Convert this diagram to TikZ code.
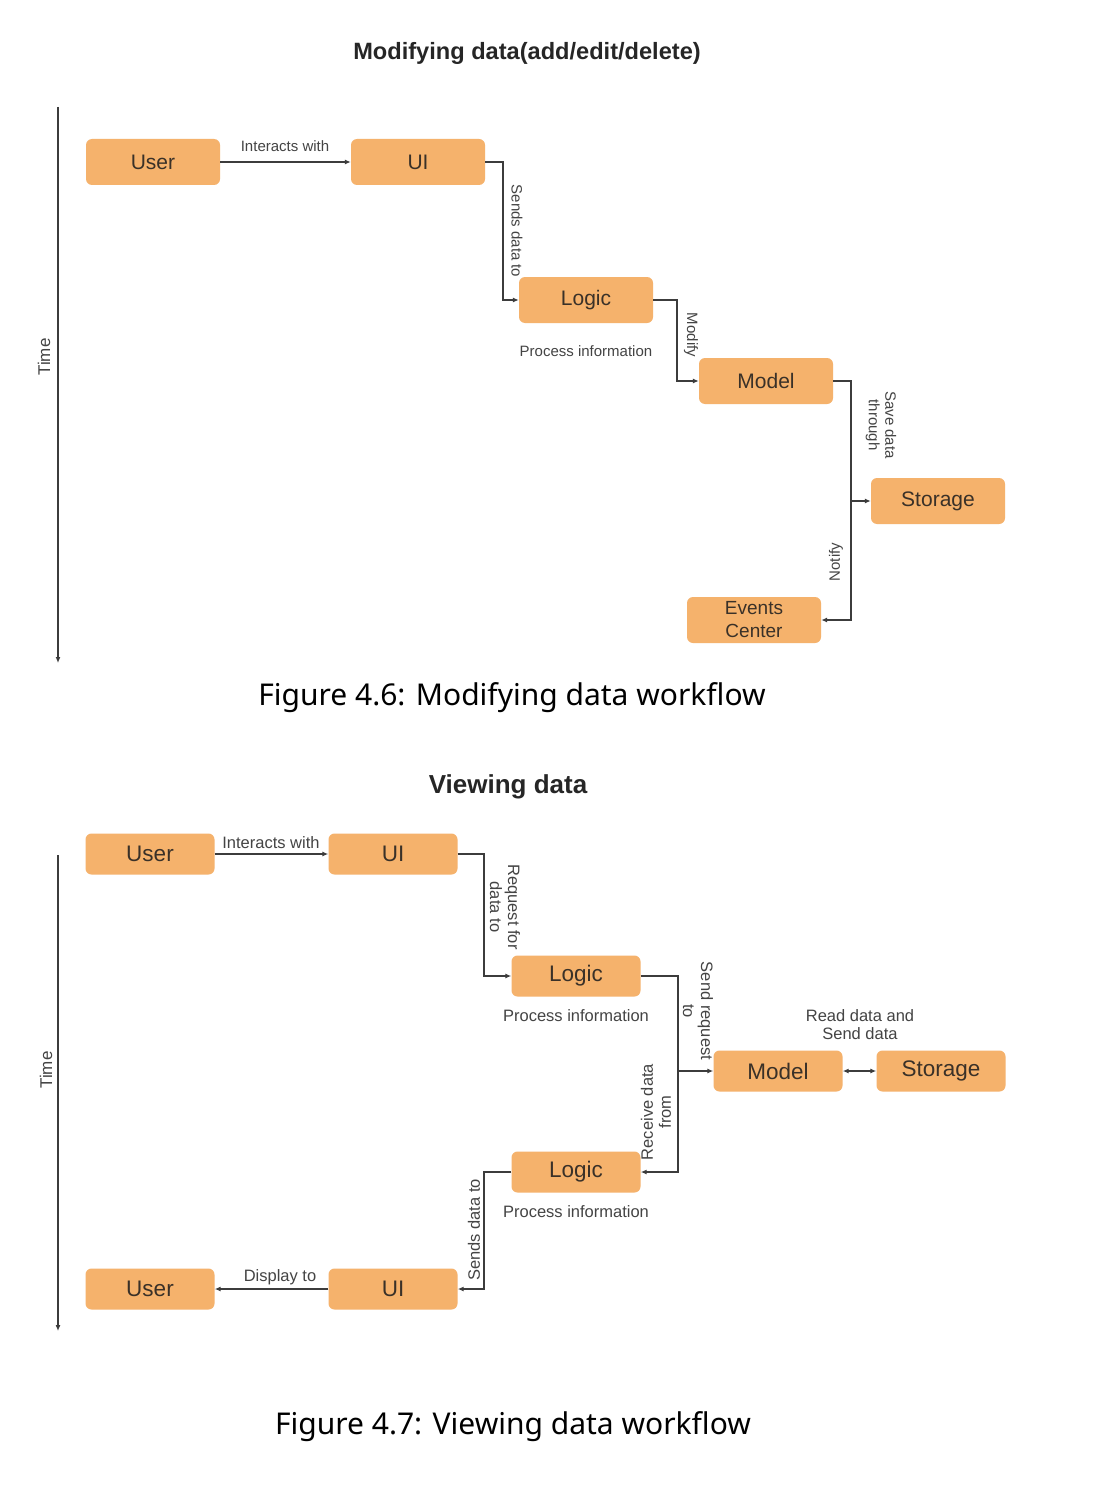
\documentclass[tikz,border=0pt]{standalone}
\usepackage{fontspec}
\setmainfont{Liberation Sans}
\newfontfamily\capfont{Noto Sans}
\usetikzlibrary{arrows.meta}
\definecolor{boxorange}{HTML}{F5B26C}
\definecolor{txtdark}{HTML}{3A3128}
\definecolor{lblgrey}{HTML}{444444}
\definecolor{linegrey}{HTML}{3C3C3C}
\tikzset{
  boxA/.style={rounded corners=6pt, fill=boxorange, draw=none, minimum width=134pt, minimum height=46pt, text=txtdark, font=\fontsize{21}{23}\selectfont, align=center, inner sep=0pt},
  boxB/.style={boxA, minimum width=129pt, minimum height=41pt, font=\fontsize{22.5}{24}\selectfont},
  lbl/.style={text=lblgrey, font=\fontsize{15}{16.5}\selectfont, align=center, inner sep=0pt},
  lblB/.style={lbl, font=\fontsize{16.5}{18}\selectfont},
  conn/.style={draw=linegrey, line width=1.3pt, -{Latex[length=6pt,width=5pt]}},
  dconn/.style={draw=linegrey, line width=1.3pt, {Latex[length=6pt,width=5pt]}-{Latex[length=6pt,width=5pt]}},
  ttl/.style={font=\bfseries\fontsize{23.6}{26}\selectfont, text=black!85, inner sep=0pt},
  ttlB/.style={font=\bfseries\fontsize{26}{28}\selectfont, text=black!85, inner sep=0pt},
  figcap/.style={font=\capfont\fontsize{30}{34}\selectfont, text=black, inner sep=0pt},
  tlbl/.style={font=\fontsize{17}{19}\selectfont, text=lblgrey, inner sep=0pt, rotate=90}
}
\begin{document}
\begin{tikzpicture}[x=1pt,y=-1pt]
\useasboundingbox (0,0) rectangle (1110,1498);
\fill[white] (0,0) rectangle (1110,1498);

% ---------- Figure 4.6 ----------
\node[ttl] (t1) at (527,53) {Modifying data(add/edit/delete)};
\coordinate (ta1) at (58,107);
\coordinate (tb1) at (58,663);
\draw[conn] (ta1) -- (tb1);
\node[tlbl] (time1) at (44,357) {Time};

\node[boxA] (user1) at (153,162) {User};
\node[boxA] (ui1) at (418,162) {UI};
\node[boxA] (logic1) at (586,300) {Logic};
\node[boxA] (model1) at (766,381) {Model};
\node[boxA] (stor1) at (938,501) {Storage};
\node[boxA, font=\fontsize{19}{23}\selectfont] (ev1) at (754,620) {Events\\Center};

\draw[conn] (user1) -- (ui1);
\node[lbl] (l1) at (285,146) {Interacts with};

\coordinate (j1) at (503,162);
\draw[conn] (ui1.east) -| (j1) |- (logic1.west);
\node[lbl, rotate=-90] (l2) at (517,231) {Sends data to};

\coordinate (j2) at (677,300);
\draw[conn] (logic1.east) -| (j2) |- (model1.west);
\node[lbl, rotate=-90] (l3) at (691,335) {Modify};
\node[lbl] (p1) at (586,351) {Process information};

\coordinate (j3) at (851,381);
\coordinate (j4) at (851,501);
\draw[conn] (model1.east) -| (j3) |- (stor1.west);
\draw[conn] (j4) |- (ev1.east);
\node[lbl, rotate=-90] (l4) at (881,425) {Save data\\through};
\node[lbl, rotate=90] (l5) at (836,562) {Notify};

\node[figcap] (c1) at (512,698) {Figure 4.6: Modifying data workflow};

% ---------- Figure 4.7 ----------
\node[ttlB] (t2) at (508,787) {Viewing data};
\coordinate (ta2) at (58,855);
\coordinate (tb2) at (58,1331);
\draw[conn] (ta2) -- (tb2);
\node[tlbl] (time2) at (46,1070) {Time};

\node[boxB] (user2) at (150,854) {User};
\node[boxB] (ui2) at (393,854) {UI};
\node[boxB] (logic2) at (576,976) {Logic};
\node[boxB] (model2) at (778,1071) {Model};
\node[boxB] (stor2) at (941,1071) {Storage};
\node[boxB] (logic3) at (576,1172) {Logic};
\node[boxB] (ui3) at (393,1289) {UI};
\node[boxB] (user3) at (150,1289) {User};

\draw[conn] (user2) -- (ui2);
\node[lblB] (m1) at (271,843) {Interacts with};

\coordinate (k1) at (484,854);
\draw[conn] (ui2.east) -| (k1) |- (logic2.west);
\node[lblB, rotate=-90] (m2) at (505,907) {Request for\\data to};
\node[lblB] (p2) at (576,1016) {Process information};

\coordinate (k2) at (678,976);
\coordinate (k3) at (678,1071);
\draw[conn] (logic2.east) -| (k2) |- (model2.west);
\node[lblB, rotate=-90] (m3) at (698,1011) {Send request\\to};
\draw[conn] (k3) |- (logic3.east);
\node[lblB, rotate=90] (m4) at (656,1112) {Receive data\\from};

\draw[dconn] (model2) -- (stor2);
\node[lblB] (m5) at (860,1025) {Read data and\\Send data};

\coordinate (k4) at (484,1172);
\draw[conn] (logic3.west) -| (k4) |- (ui3.east);
\node[lblB, rotate=90] (m6) at (474,1230) {Sends data to};
\node[lblB] (p3) at (576,1212) {Process information};

\draw[conn] (ui3) -- (user3);
\node[lblB] (m7) at (280,1277) {Display to};

\node[figcap] (c2) at (513,1427) {Figure 4.7: Viewing data workflow};
\end{tikzpicture}
\end{document}
